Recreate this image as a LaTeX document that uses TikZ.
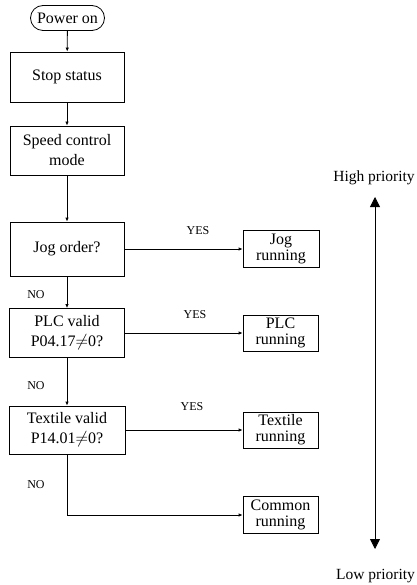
\documentclass[tikz,border=0pt]{standalone}
\usepackage{fontspec}
\setmainfont{Liberation Serif}
\usetikzlibrary{arrows.meta}
\begin{document}
\begin{tikzpicture}[x=1pt,y=-1pt,
  box/.style={draw,line width=0.8pt,align=center,inner sep=0pt,font=\fontsize{16}{20}\selectfont},
  runbox/.style={draw,line width=0.8pt,align=center,inner sep=0pt,minimum width=75pt,minimum height=36pt,font=\fontsize{16}{16}\selectfont},
  lbl/.style={font=\fontsize{12}{14}\selectfont,inner sep=0pt},
  prio/.style={font=\fontsize{15.5}{18}\selectfont,inner sep=0pt},
  conn/.style={line width=0.8pt,-{Latex[length=4pt,width=3.5pt]}},
  line/.style={line width=0.8pt}]
\useasboundingbox (0,0) rectangle (416,585);
\node[box,rounded corners=12.5pt,minimum width=74pt,minimum height=25pt] (power) at (67.5,18) {Power on};
\node[box,minimum width=114pt,minimum height=50pt] (stop) at (67,77) {Stop status};
\node[box,minimum width=114pt,minimum height=49pt] (speed) at (67,150.5) {Speed control\\mode};
\node[box,minimum width=114pt,minimum height=54pt] (jog) at (67,249) {Jog order?};
\node[box,minimum width=115pt,minimum height=49pt] (plc) at (67,333) {PLC valid\\P04.17$\neq$0?};
\node[box,minimum width=116pt,minimum height=48pt] (tex) at (67,430) {Textile valid\\P14.01$\neq$0?};
\node[runbox,minimum width=76pt,minimum height=37pt] (jogrun) at (281,249) {Jog\\running};
\node[runbox] (plcrun) at (280.5,333) {PLC\\running};
\node[runbox] (texrun) at (280.5,430) {Textile\\running};
\node[runbox,minimum height=37pt] (comrun) at (280.5,515) {Common\\running};
\coordinate (turn) at (67,515);
\draw[conn] (power) -- (stop);
\draw[conn] (stop) -- (speed);
\draw[conn] (speed) -- (jog);
\draw[conn] (jog) -- (plc);
\draw[conn] (plc) -- (tex);
\draw[conn] (jog.east) -- (jogrun.west);
\draw[conn] (plc.east) -- (plcrun.west);
\draw[conn] (tex.east) -- (texrun.west);
\draw[line] (tex.south) -- (turn);
\draw[conn] (turn) -- (comrun.west);
\node[lbl] (no1) at (36,295) {NO};
\node[lbl] (no2) at (36,386) {NO};
\node[lbl] (no3) at (36,485) {NO};
\node[lbl] (yes1) at (198,231) {YES};
\node[lbl] (yes2) at (195,315) {YES};
\node[lbl] (yes3) at (192,407) {YES};
\node[prio] (high) at (374,178) {High priority};
\node[prio] (low) at (375.5,576) {Low priority};
\coordinate (ptop) at (375,197);
\coordinate (pbot) at (375,549);
\draw[line width=0.8pt,{Triangle[length=10pt,width=10pt]}-{Triangle[length=10pt,width=10pt]}] (ptop) -- (pbot);
\end{tikzpicture}
\end{document}
